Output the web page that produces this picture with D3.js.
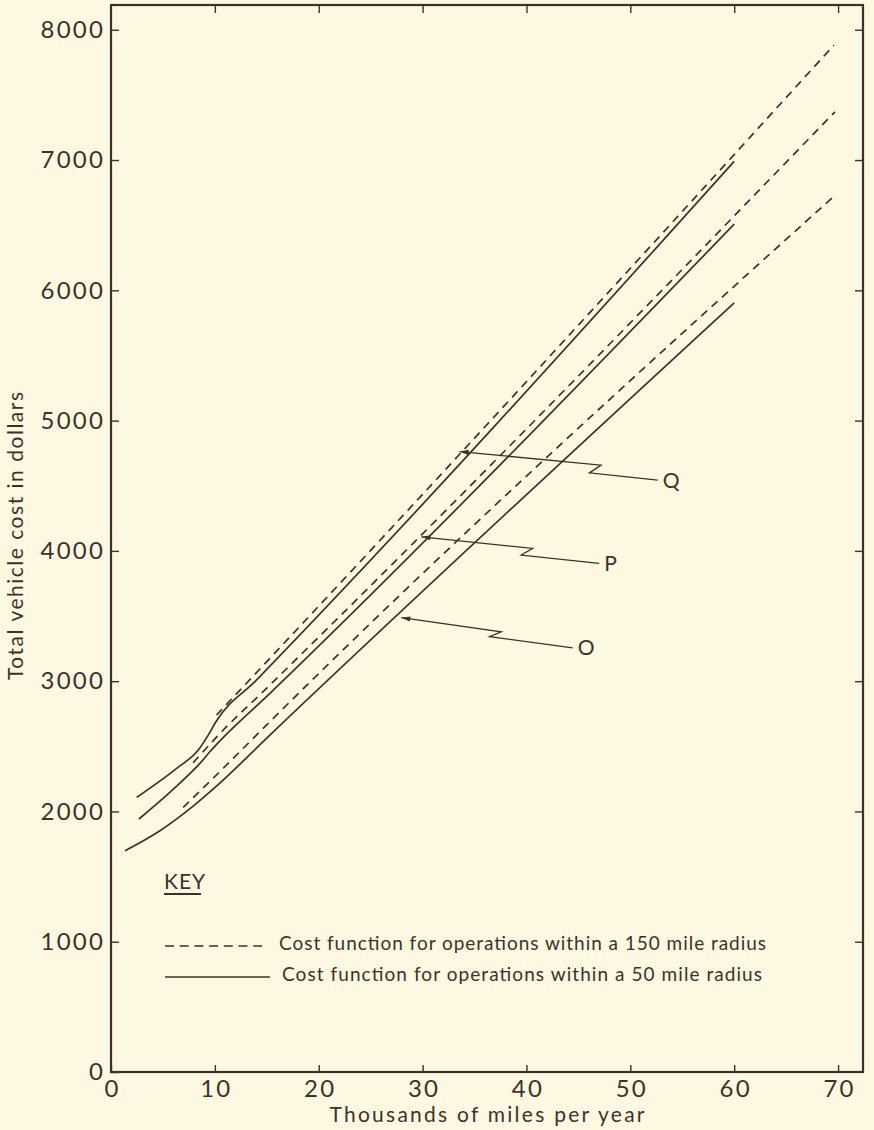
<!DOCTYPE html>
<html>
<head>
<meta charset="utf-8">
<script src="https://cdn.jsdelivr.net/npm/d3@7"></script>
<style>
  html, body { margin: 0; padding: 0; background: #fdf8e2; }
  svg { display: block; }
  text { font-family: Lato, "Open Sans", sans-serif; fill: #3d3229; }
</style>
</head>
<body>
<div id="chart"></div>
<script>
// values: [thousands of miles per year, dollars]
const line50Q = [[2.47, 2108], [6.32, 2331], [8.4, 2471], [9.36, 2586], [10.1, 2688], [14.0, 3008], [60, 6990]];
const line50P = [[2.69, 1942], [6.32, 2195], [8.56, 2369], [9.52, 2458], [10.1, 2509], [15.3, 2906], [60, 6508]];
const line50O = [[1.35, 1698], [4.71, 1852], [7.91, 2041], [10.1, 2190], [15.3, 2586], [60, 5904]];
const line150Q = [[10.16, 2740], [12.7, 2955], [69.6, 7882]];
const line150P = [[7.91, 2374], [10.5, 2599], [14.8, 2932], [69.7, 7370]];
const line150O = [[6.95, 2031], [10.8, 2331], [14.97, 2663], [69.8, 6736]];

const xTicks = [0, 10, 20, 30, 40, 50, 60, 70];
const yTicks = [0, 1000, 2000, 3000, 4000, 5000, 6000, 7000, 8000];

// leader arrows: tip, break, break, end (data units) and their letter
const arrowNames = ["Q", "P", "O"];
const arrowPaths = [
  [[33.56, 4762], [47.18, 4658], [46.06, 4599], [52.63, 4543]],
  [[29.88, 4108], [40.6, 4019], [39.49, 3968], [47.0, 3904]],
  [[27.95, 3487], [37.57, 3379], [36.44, 3341], [44.45, 3256]]
];

const keyLabels = [
  "Cost function for operations within a 150 mile radius",
  "Cost function for operations within a 50 mile radius"
];

const W = 874, H = 1130;
const margin = { top: 5, right: 11, bottom: 58, left: 111 };
const ink = "#3d3229";

const svg = d3.select("#chart").append("svg")
  .attr("width", W).attr("height", H);

svg.append("rect").attr("width", W).attr("height", H).attr("fill", "#fdf8e2");

const x = d3.scaleLinear().domain([0, 72.4]).range([margin.left, W - margin.right]);
const y = d3.scaleLinear().domain([0, 8190]).range([H - margin.bottom, margin.top]);

// axes, ticks pointing into the frame
const gLeft = svg.append("g")
  .attr("transform", `translate(${margin.left},0)`)
  .call(d3.axisLeft(y).tickValues(yTicks).tickFormat(d3.format("d"))
    .tickSizeInner(-8).tickSizeOuter(0).tickPadding(8));
const gBottom = svg.append("g")
  .attr("transform", `translate(0,${H - margin.bottom})`)
  .call(d3.axisBottom(x).tickValues(xTicks).tickFormat(d3.format("d"))
    .tickSizeInner(-7).tickSizeOuter(0).tickPadding(8));
const gTop = svg.append("g")
  .attr("transform", `translate(0,${margin.top})`)
  .call(d3.axisTop(x).tickValues(xTicks.slice(1)).tickSizeInner(-8).tickSizeOuter(0).tickFormat(""));
const gRight = svg.append("g")
  .attr("transform", `translate(${W - margin.right},0)`)
  .call(d3.axisRight(y).tickValues(yTicks.slice(1)).tickSizeInner(-8).tickSizeOuter(0).tickFormat(""));

[gLeft, gBottom, gTop, gRight].forEach(g => {
  g.select(".domain").remove();
  g.selectAll(".tick line").attr("stroke", ink).attr("stroke-width", 1.4);
  g.selectAll(".tick text")
    .attr("fill", ink)
    .style("font-family", "Lato, sans-serif")
    .style("font-size", "24px")
    .style("letter-spacing", "2.2px");
});
gLeft.selectAll(".tick text").attr("dx", "2px");
gBottom.selectAll(".tick text").attr("dx", "1px");

// frame
svg.append("rect")
  .attr("x", margin.left).attr("y", margin.top)
  .attr("width", W - margin.right - margin.left)
  .attr("height", H - margin.bottom - margin.top)
  .attr("fill", "none").attr("stroke", ink).attr("stroke-width", 2.2);

// axis titles
svg.append("text")
  .attr("x", (margin.left + W - margin.right) / 2).attr("y", 1122)
  .attr("text-anchor", "middle")
  .attr("textLength", 315).attr("lengthAdjust", "spacing")
  .style("font-size", "21px")
  .text("Thousands of miles per year");

svg.append("text")
  .attr("transform", "translate(23,536) rotate(-90)")
  .attr("text-anchor", "middle")
  .attr("textLength", 288).attr("lengthAdjust", "spacing")
  .style("font-size", "21px")
  .text("Total vehicle cost in dollars");

// cost curves
const line = d3.line().x(d => x(d[0])).y(d => y(d[1])).curve(d3.curveMonotoneX);
const dash = "8,6";

[line150Q, line150P, line150O].forEach(s => {
  svg.append("path").attr("d", line(s))
    .attr("fill", "none").attr("stroke", ink).attr("stroke-width", 1.7)
    .attr("stroke-dasharray", dash);
});
[line50Q, line50P, line50O].forEach(s => {
  svg.append("path").attr("d", line(s))
    .attr("fill", "none").attr("stroke", ink).attr("stroke-width", 1.7);
});

// leader arrows with letters
const straight = d3.line().x(d => x(d[0])).y(d => y(d[1]));
arrowPaths.forEach((pts, i) => {
  svg.append("path").attr("d", straight(pts))
    .attr("fill", "none").attr("stroke", ink).attr("stroke-width", 1.3);

  const tx = x(pts[0][0]), ty = y(pts[0][1]);
  const ang = Math.atan2(y(pts[1][1]) - ty, x(pts[1][0]) - tx);
  const len = 9, half = 2.6;
  const bx = tx + len * Math.cos(ang), by = ty + len * Math.sin(ang);
  const px = -Math.sin(ang) * half, py = Math.cos(ang) * half;
  svg.append("path")
    .attr("d", `M${tx},${ty}L${bx + px},${by + py}L${bx - px},${by - py}Z`)
    .attr("fill", ink);

  const end = pts[pts.length - 1];
  svg.append("text")
    .attr("x", x(end[0]) + 5).attr("y", y(end[1]))
    .attr("dy", "0.36em")
    .style("font-size", "21px")
    .text(arrowNames[i]);
});

// key
const key = svg.append("g");
key.append("text").attr("x", 164).attr("y", 889)
  .style("font-size", "21px").style("letter-spacing", "1px").text("KEY");
key.append("line").attr("x1", 164).attr("x2", 201).attr("y1", 894).attr("y2", 894)
  .attr("stroke", ink).attr("stroke-width", 1.8);

const keyRows = [{ y: 946, dashed: true }, { y: 977, dashed: false }];
keyRows.forEach((r, i) => {
  key.append("line")
    .attr("x1", 165).attr("x2", r.dashed ? 267 : 270)
    .attr("y1", r.y).attr("y2", r.y)
    .attr("stroke", ink).attr("stroke-width", 1.5)
    .attr("stroke-dasharray", r.dashed ? "9,5.7" : null);
  key.append("text")
    .attr("x", r.dashed ? 279 : 282).attr("y", r.y + 4)
    .attr("textLength", r.dashed ? 487 : 480).attr("lengthAdjust", "spacing")
    .style("font-size", "19px")
    .text(keyLabels[i]);
});
</script>
</body>
</html>
